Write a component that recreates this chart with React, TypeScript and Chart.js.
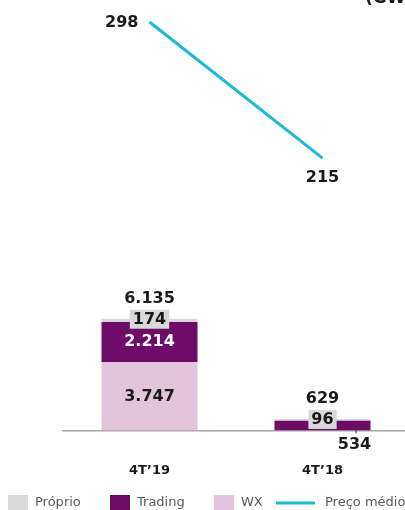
import { useEffect, useRef } from "react";
import { Chart, registerables } from "chart.js";

Chart.register(...registerables);

// ---- data ----
const categories = ["4T’19", "4T’18"];
const proprio = [174, 96];
const trading = [2214, 534];
const wx = [3747, 0];
const totals = [6135, 629];
const precoMedio = [298, 215];
const seriesNames = ["Próprio", "Trading", "WX", "Preço médio"];
const unitTitle = "(GWh)";

// ---- style ----
const C_PROPRIO = "#d9d9d9";
const C_TRADING = "#6e0b68";
const C_WX = "#e3c4dd";
const C_LINE = "#1bb9d3";
const C_TEXT = "#1a1a1a";
const FONT = "'DejaVu Sans', Verdana, sans-serif";

const fmt = (v: number) => String(v).replace(/\B(?=(\d{3})+(?!\d))/g, ".");

const labelPlugin = {
  id: "valueLabels",
  afterDatasetsDraw(chart: any) {
    const ctx = chart.ctx;
    const metaWx = chart.getDatasetMeta(0);
    const metaTr = chart.getDatasetMeta(1);
    const metaPr = chart.getDatasetMeta(2);
    const metaLine = chart.getDatasetMeta(3);
    ctx.save();
    ctx.font = `bold 16px ${FONT}`;
    ctx.textAlign = "center";
    ctx.textBaseline = "middle";
    categories.forEach((_, i) => {
      const wxEl = metaWx.data[i];
      const trEl = metaTr.data[i];
      const prEl = metaPr.data[i];
      const x = prEl.x;
      const top = prEl.y;
      // total
      ctx.fillStyle = C_TEXT;
      ctx.fillText(fmt(totals[i]), x, top - 20);
      // próprio in grey box
      const pt = fmt(proprio[i]);
      const bw = ctx.measureText(pt).width + 6;
      ctx.fillStyle = C_PROPRIO;
      ctx.fillRect(x - bw / 2, top + 0.5 - 9.5, bw, 19);
      ctx.fillStyle = C_TEXT;
      ctx.fillText(pt, x, top + 1);
      // trading
      const h = trEl.base - trEl.y;
      const tt = fmt(trading[i]);
      if (h > 24) {
        ctx.fillStyle = "#ffffff";
        ctx.fillText(tt, x, (trEl.y + trEl.base) / 2);
      } else {
        const lx = x + 33.5;
        ctx.strokeStyle = "#333333";
        ctx.lineWidth = 1;
        ctx.beginPath();
        ctx.moveTo(lx, trEl.base - 4);
        ctx.lineTo(lx, trEl.base + 3);
        ctx.stroke();
        ctx.fillStyle = C_TEXT;
        ctx.fillText(tt, x + 32, trEl.base + 14.5);
      }
      // wx
      if (wx[i] > 0) {
        ctx.fillStyle = C_TEXT;
        ctx.fillText(fmt(wx[i]), x, (wxEl.y + wxEl.base) / 2 + 0.5);
      }
    });
    // line labels
    const p0 = metaLine.data[0];
    const p1 = metaLine.data[1];
    ctx.fillStyle = C_TEXT;
    ctx.textAlign = "right";
    ctx.fillText(fmt(precoMedio[0]), p0.x - 11, p0.y + 1);
    ctx.textAlign = "center";
    ctx.fillText(fmt(precoMedio[1]), p1.x, p1.y + 20);
    ctx.restore();
  },
};

const legendPlugin = {
  id: "customLegend",
  afterDraw(chart: any) {
    const ctx = chart.ctx;
    const items = [
      { label: seriesNames[0], color: C_PROPRIO, kind: "box", x: 8 },
      { label: seriesNames[1], color: C_TRADING, kind: "box", x: 110 },
      { label: seriesNames[2], color: C_WX, kind: "box", x: 214 },
      { label: seriesNames[3], color: C_LINE, kind: "line", x: 276 },
    ];
    const cy = 503;
    ctx.save();
    ctx.font = `13px ${FONT}`;
    ctx.textBaseline = "middle";
    ctx.textAlign = "left";
    items.forEach((it) => {
      if (it.kind === "box") {
        ctx.fillStyle = it.color;
        ctx.fillRect(it.x, 495, 20, 16);
        ctx.fillStyle = "#595959";
        ctx.fillText(it.label, it.x + 27, cy);
      } else {
        ctx.strokeStyle = it.color;
        ctx.lineWidth = 3;
        ctx.beginPath();
        ctx.moveTo(it.x, cy);
        ctx.lineTo(it.x + 39, cy);
        ctx.stroke();
        ctx.fillStyle = "#595959";
        ctx.fillText(it.label, it.x + 49, cy);
      }
    });
    // partially visible unit title (cut off at the top edge)
    ctx.font = `bold 17px ${FONT}`;
    ctx.fillStyle = C_TEXT;
    ctx.textBaseline = "alphabetic";
    ctx.fillText(unitTitle, 365, 2.5);
    ctx.restore();
  },
};

export default function App() {
  const ref = useRef<HTMLCanvasElement | null>(null);
  useEffect(() => {
    if (!ref.current) return;
    const chart = new Chart(ref.current, {
      type: "bar",
      data: {
        labels: categories,
        datasets: [
          { label: seriesNames[2], data: wx, backgroundColor: C_WX, yAxisID: "y", stack: "s" },
          { label: seriesNames[1], data: trading, backgroundColor: C_TRADING, yAxisID: "y", stack: "s" },
          { label: seriesNames[0], data: proprio, backgroundColor: C_PROPRIO, yAxisID: "y", stack: "s" },
          {
            type: "line",
            label: seriesNames[3],
            data: precoMedio,
            borderColor: C_LINE,
            backgroundColor: C_LINE,
            borderWidth: 3,
            pointRadius: 0,
            tension: 0,
            yAxisID: "y1",
            clip: false,
          } as any,
        ],
      },
      options: {
        animation: false,
        responsive: true,
        maintainAspectRatio: false,
        layout: { padding: { left: 63, right: 0, top: 10, bottom: 0 } },
        datasets: { bar: { categoryPercentage: 1, barPercentage: 0.555 } },
        plugins: { legend: { display: false }, tooltip: { enabled: false } },
        scales: {
          x: {
            stacked: true,
            grid: { display: false, drawTicks: false },
            border: { display: true, color: "#a6a6a6", width: 1.5 },
            ticks: { padding: 32, color: C_TEXT, font: { family: FONT, size: 13, weight: "bold" } },
          },
          y: { stacked: true, display: false, min: 0, max: 23100 },
          y1: { display: false, min: 49, max: 305.3 },
        },
      } as any,
      plugins: [labelPlugin, legendPlugin],
    });
    return () => chart.destroy();
  }, []);
  return (
    <div style={{ position: "fixed", left: 0, top: 0, width: 405, height: 510, overflow: "hidden", background: "#fff" }}>
      <div style={{ position: "relative", width: 409, height: 510 }}>
        <canvas ref={ref} />
      </div>
    </div>
  );
}
